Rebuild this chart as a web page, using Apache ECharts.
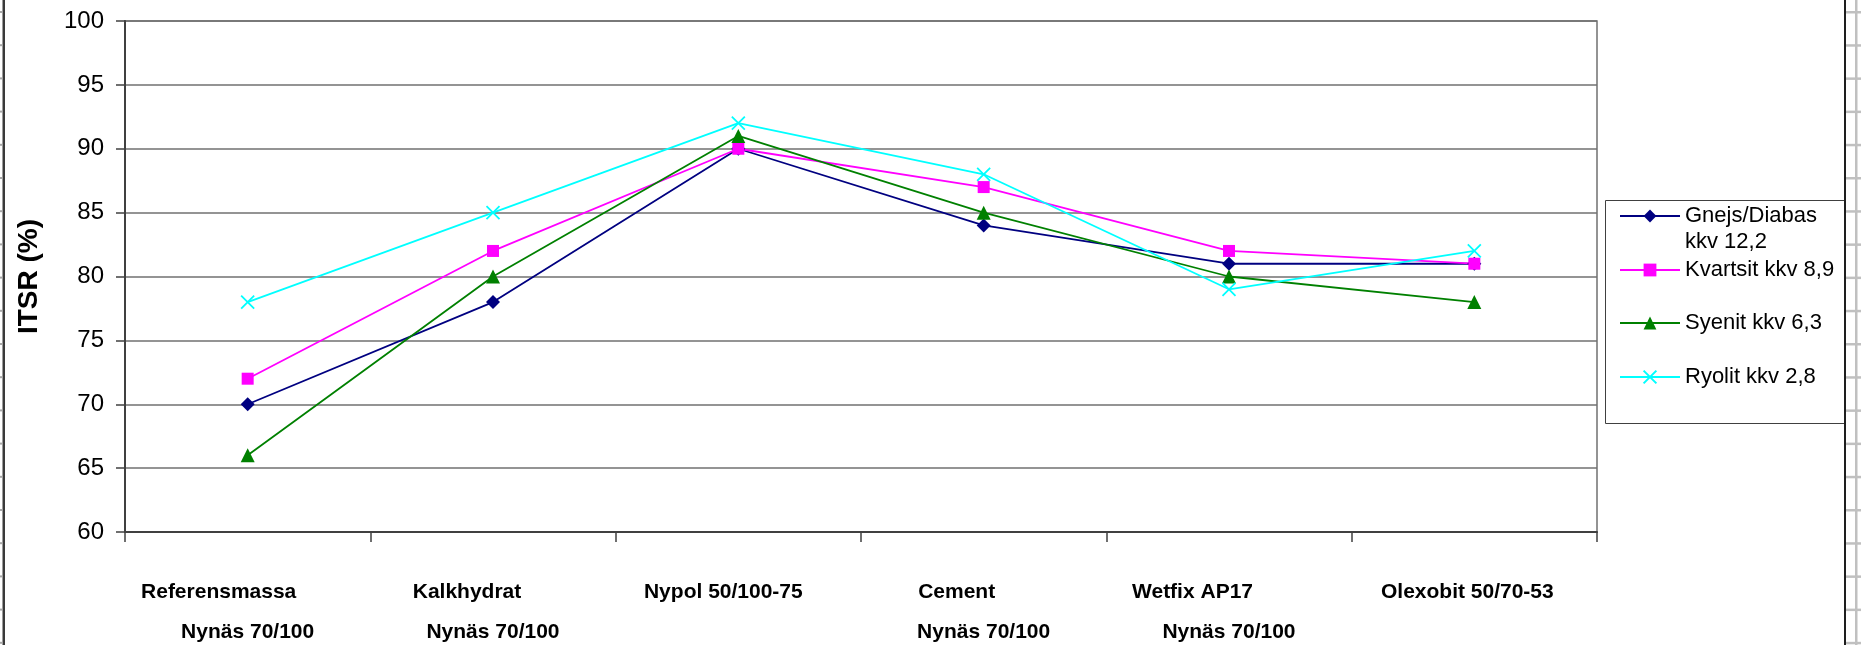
<!DOCTYPE html>
<html><head><meta charset="utf-8">
<script src="https://cdn.jsdelivr.net/npm/echarts@6/dist/echarts.min.js"></script>
<style>html,body{margin:0;padding:0;background:#fff;} #c{width:1861px;height:645px;}</style>
</head><body><div id="c"></div>
<script>
// ---- data ----
const categoriesTop = ['Referensmassa', 'Kalkhydrat', 'Nypol 50/100-75', 'Cement', 'Wetfix AP17', 'Olexobit 50/70-53'];
const categoriesBottom = ['Nynäs 70/100', 'Nynäs 70/100', '', 'Nynäs 70/100', 'Nynäs 70/100', ''];
const seriesNames = ['Gnejs/Diabas kkv 12,2', 'Kvartsit kkv 8,9', 'Syenit kkv 6,3', 'Ryolit kkv 2,8'];
const gnejs = [70, 78, 90, 84, 81, 81];
const kvartsit = [72, 82, 90, 87, 82, 81];
const syenit = [66, 80, 91, 85, 80, 78];
const ryolit = [78, 85, 92, 88, 79, 82];
const yTicks = [60, 65, 70, 75, 80, 85, 90, 95, 100];
const yTitle = 'ITSR (%)';

// ---- styling ----
const FONT = "'Liberation Sans', Arial, sans-serif";
const topLabelShift = [58, 52, 30, 54, 73, 14]; // right padding to mimic original label offsets
const colors = ['#000080', '#FF00FF', '#008000', '#00FFFF'];
const symbols = ['diamond', 'rect', 'triangle', 'path://M0,0L10,10M10,0L0,10'];
const symbolSizes = [14, 12, 14, 13];
const legendTops = [177, 257, 310, 364];

const categories = categoriesTop.map((t, i) => categoriesBottom[i] ? t + '\n' + categoriesBottom[i] : t);
const rich = { b: { fontSize: 21, fontWeight: 'bold', fontFamily: FONT, color: '#000', lineHeight: 40 } };
topLabelShift.forEach((p, i) => {
  rich['t' + i] = { fontSize: 21, fontWeight: 'bold', fontFamily: FONT, color: '#000', lineHeight: 40, padding: [0, p, 0, 0] };
});

const values = [gnejs, kvartsit, syenit, ryolit];
const series = seriesNames.map((n, i) => ({
  name: n,
  type: 'line',
  data: values[i],
  symbol: symbols[i],
  symbolSize: symbolSizes[i],
  showSymbol: true,
  lineStyle: { color: colors[i], width: 1.8 },
  itemStyle: { color: colors[i], borderColor: colors[i], borderWidth: i === 3 ? 1.8 : 0 },
  emphasis: { disabled: true },
  animation: false
}));

const legends = seriesNames.map((n, i) => ({
  data: [n],
  left: 1619,
  top: legendTops[i],
  orient: 'vertical',
  itemWidth: 60,
  itemHeight: 16,
  itemGap: 0,
  padding: 0,
  selectedMode: false,
  // first entry wraps onto two lines; a blank leading line keeps its first line level with the symbol
  formatter: name => (i === 0 ? ' \n' + name.replace(' kkv', '\nkkv') : name),
  textStyle: { fontSize: 22, color: '#000', fontFamily: FONT, lineHeight: 26 }
}));

// spreadsheet frame decorations
const graphics = [
  { type: 'rect', shape: { x: 1605.5, y: 200.5, width: 240, height: 223 }, style: { fill: 'none', stroke: '#404040', lineWidth: 1 }, z: 10 },
  { type: 'rect', shape: { x: 2.5, y: 0, width: 2.5, height: 645 }, style: { fill: '#3a3a3a' }, z: 20 },
  { type: 'rect', shape: { x: 1844, y: 0, width: 2, height: 645 }, style: { fill: '#1e1e1e' }, z: 20 },
  { type: 'rect', shape: { x: 1855, y: 0, width: 2.5, height: 645 }, style: { fill: '#c0c0c0' }, z: 20 }
];
for (let y = 11; y < 645; y += 33.2) {
  graphics.push({ type: 'rect', shape: { x: 0, y: y, width: 2.5, height: 2 }, style: { fill: '#a8a8a8' }, z: 20 });
  graphics.push({ type: 'rect', shape: { x: 1846, y: y, width: 15, height: 2.5 }, style: { fill: '#c0c0c0' }, z: 19 });
}

const chart = echarts.init(document.getElementById('c'), null, { renderer: 'canvas' });
chart.setOption({
  animation: false,
  backgroundColor: '#fff',
  grid: { left: 125, right: 264, top: 21, bottom: 113, show: true, borderColor: '#707070', borderWidth: 1.5, containLabel: false },
  xAxis: {
    type: 'category',
    data: categories,
    boundaryGap: true,
    axisLine: { lineStyle: { color: '#404040', width: 2 } },
    axisTick: { show: true, length: 10, interval: 0, lineStyle: { color: '#404040', width: 1.5 } },
    axisLabel: {
      interval: 0,
      margin: 40,
      formatter: (v, idx) => {
        let s = '{t' + idx + '|' + categoriesTop[idx] + '}';
        if (categoriesBottom[idx]) s += '\n{b|' + categoriesBottom[idx] + '}';
        return s;
      },
      rich: rich
    },
    splitLine: { show: false }
  },
  yAxis: {
    type: 'value',
    min: yTicks[0],
    max: yTicks[yTicks.length - 1],
    interval: yTicks[1] - yTicks[0],
    name: yTitle,
    nameLocation: 'middle',
    nameRotate: 90,
    nameGap: 82,
    nameTextStyle: { fontSize: 28, fontWeight: 'bold', color: '#000', fontFamily: FONT },
    axisLine: { show: true, lineStyle: { color: '#404040', width: 2 } },
    axisTick: { show: true, length: 9, lineStyle: { color: '#404040', width: 1.5 } },
    axisLabel: { fontSize: 24, color: '#000', margin: 21, fontFamily: FONT },
    splitLine: { show: true, lineStyle: { color: '#707070', width: 1.5 } }
  },
  legend: legends,
  series: series,
  graphic: graphics
});
</script>
</body></html>
